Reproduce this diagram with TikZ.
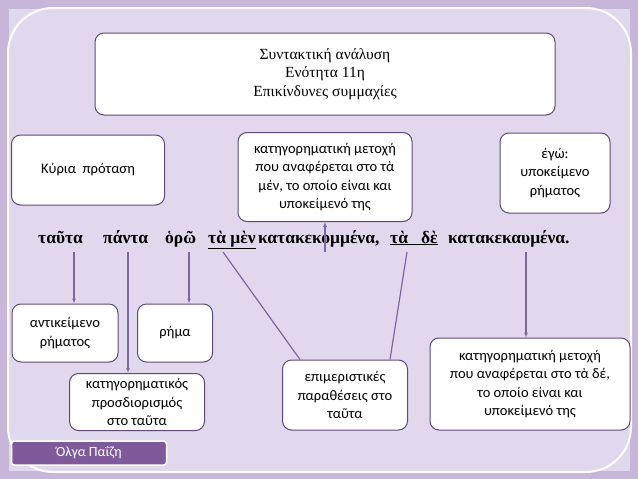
\documentclass[tikz,border=0pt]{standalone}
\usepackage{fontspec}
\setmainfont{Carlito}
\newfontfamily\grs{Liberation Serif}
\usetikzlibrary{arrows.meta}
\definecolor{bgout}{HTML}{C7B5DA}
\definecolor{bgin}{HTML}{E2D8ED}
\definecolor{edge}{HTML}{5E4A7A}
\definecolor{lin}{HTML}{7B68A0}
\definecolor{tag}{HTML}{7E5A9B}
\tikzset{
  box/.style={draw=edge,line width=1pt,fill=white,rounded corners=9pt,align=center,font=\fontsize{14.5}{18.5}\selectfont,inner sep=2pt},
  wd/.style={font=\grs\bfseries\fontsize{17.5}{20}\selectfont,inner sep=0pt,anchor=base west},
  con/.style={draw=lin,line width=1.2pt,-{Latex[length=5pt,width=4pt]}},
  lnk/.style={draw=lin,line width=1.2pt}
}
\begin{document}
\begin{tikzpicture}[x=1pt,y=-1pt]
\useasboundingbox (0,0) rectangle (638,479);
\fill[bgout] (0,0) rectangle (638,479);
\fill[bgin] (9,9) rectangle (630,471);
\draw[white,line width=2pt,rounded corners=45pt] (8,8) rectangle (631,472);
% boxes
\node[box,minimum width=460,minimum height=82,font=\grs\fontsize{15.5}{18.5}\selectfont] (title) at (325,74) {Συντακτική ανάλυση\\Ενότητα 11η\\Επικίνδυνες συμμαχίες};
\node[box,minimum width=153,minimum height=70] (kyria) at (88,170) {Κύρια\ \ πρόταση};
\node[box,minimum width=174,minimum height=89] (metb) at (325,177) {κατηγορηματική μετοχή\\που αναφέρεται στο τὰ\\μέν, το οποίο είναι και\\υποκείμενό της};
\node[box,minimum width=110,minimum height=80] (ego) at (555,173) {έγώ:\\υποκείμενο\\ρήματος};
\node[box,minimum width=106,minimum height=58] (antik) at (65,333) {αντικείμενο\\ρήματος};
\node[box,minimum width=75,minimum height=58] (rima) at (175,333) {ρήμα};
\node[box,minimum width=135,minimum height=57] (katig) at (137,402) {κατηγορηματικός\\προσδιορισμός\\στο ταῦτα};
\node[box,minimum width=125,minimum height=70] (epim) at (345,395) {επιμεριστικές\\παραθέσεις στο\\ταῦτα};
\node[box,minimum width=200,minimum height=92] (metr) at (530,384) {κατηγορηματική μετοχή\\που αναφέρεται στο τὰ δέ,\\το οποίο είναι και\\υποκείμενό της};
\node[draw=white,line width=1.5pt,fill=tag,text=white,rounded corners=3pt,minimum width=155,minimum height=24,font=\fontsize{14}{16}\selectfont] (olga) at (89,453) {Όλγα Παΐζη};
% sentence
\node[wd] (w1) at (38,243) {ταῦτα};
\node[wd] (w2) at (103,243) {πάντα};
\node[wd] (w3) at (165,243) {ὁρῶ};
\node[wd] (w4) at (208,243) {\underline{τὰ μὲν}};
\node[wd] (w5) at (258,243) {κατακεκομμένα,};
\node[wd] (w6) at (390,243) {\underline{τὰ\ \ \ δὲ}};
\node[wd] (w7) at (448,243) {κατακεκαυμένα.};
\coordinate (s1) at (74,252); \coordinate (s2) at (128,252); \coordinate (s3) at (189,252);
\coordinate (s4) at (223,252); \coordinate (s5) at (325,252); \coordinate (s6) at (407,252); \coordinate (s7) at (526,252);
\draw[con] (s1) -- (antik.north -| s1);
\draw[con] (s2) -- (katig.north -| s2);
\draw[con] (s3) -- (rima.north -| s3);
\draw[lnk] (s4) -- ([xshift=-45pt]epim.north);
\draw[lnk] (s6) -- ([xshift=45pt]epim.north);
\draw[con] (s5) -- (metb.south);
\draw[con] (s7) -- (metr.north -| s7);
\end{tikzpicture}
\end{document}
